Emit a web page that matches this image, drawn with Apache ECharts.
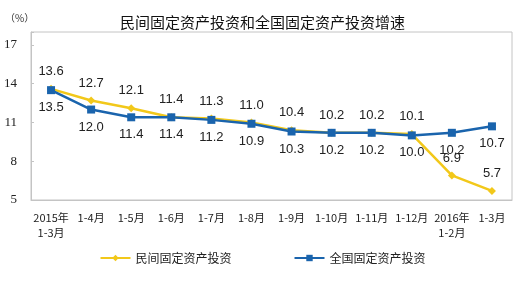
<!DOCTYPE html>
<html>
<head>
<meta charset="utf-8">
<script src="https://cdn.jsdelivr.net/npm/echarts@6/dist/echarts.min.js"></script>
<style>html,body{margin:0;padding:0;background:#fff;}#c{width:525px;height:281px;}</style>
</head>
<body>
<div id="c"></div>
<script>
const categories = ['2015年\n1-3月','1-4月','1-5月','1-6月','1-7月','1-8月','1-9月','1-10月','1-11月','1-12月','2016年\n1-2月','1-3月'];
const privateInvest = [13.6, 12.7, 12.1, 11.4, 11.3, 11.0, 10.4, 10.2, 10.2, 10.1, 6.9, 5.7];
const nationalInvest = [13.5, 12.0, 11.4, 11.4, 11.2, 10.9, 10.3, 10.2, 10.2, 10.0, 10.2, 10.7];
const yTicks = [5, 8, 11, 14, 17];
const seriesNames = ['民间固定资产投资', '全国固定资产投资'];

const chart = echarts.init(document.getElementById('c'), null, {renderer: 'canvas'});
const labelStyle = {show: true, fontFamily: 'Liberation Sans, Arial', fontSize: 13, color: '#222', distance: 7, formatter: p => p.value.toFixed(1)};
chart.setOption({
  animation: false,
  backgroundColor: '#fff',
  title: [{
    text: '民间固定资产投资和全国固定资产投资增速',
    left: 'center', top: 10,
    textStyle: {fontFamily: 'Noto Sans CJK SC', fontSize: 15, fontWeight: 'normal', color: '#111'}
  }, {
    text: '（%）', left: 0, top: 8,
    textStyle: {fontFamily: 'Noto Sans CJK SC', fontSize: 10, fontWeight: 'normal', color: '#333'}
  }],
  legend: {
    bottom: 12, left: 'center', itemGap: 62, itemWidth: 30, itemHeight: 8,
    textStyle: {fontFamily: 'Noto Sans CJK SC', fontSize: 12, color: '#222'},
    data: seriesNames
  },
  grid: {left: 31, right: 13, top: 32, bottom: 81, show: true, borderColor: '#c4c4c4', borderWidth: 1},
  xAxis: {
    type: 'category', data: categories, boundaryGap: true,
    axisLine: {lineStyle: {color: '#c4c4c4'}},
    axisTick: {inside: true, length: 4, lineStyle: {color: '#c4c4c4'}},
    axisLabel: {interval: 0, fontFamily: 'Noto Sans CJK SC', fontSize: 11, color: '#222', lineHeight: 15, margin: 10}
  },
  yAxis: {
    type: 'value', min: 5, max: 18, interval: 3,
    splitLine: {show: false},
    axisLine: {show: true, lineStyle: {color: '#c4c4c4'}},
    axisTick: {show: true, inside: true, length: 3, lineStyle: {color: '#c4c4c4'}},
    axisLabel: {fontFamily: 'Liberation Serif', fontSize: 13, color: '#222', margin: 14,
      formatter: v => yTicks.includes(v) ? String(v) : ''}
  },
  series: [{
    name: seriesNames[0], type: 'line', data: privateInvest,
    symbol: 'diamond', symbolSize: 8,
    lineStyle: {color: '#f2c81a', width: 2.5},
    itemStyle: {color: '#f2c81a'},
    label: Object.assign({position: 'top'}, labelStyle)
  }, {
    name: seriesNames[1], type: 'line', data: nationalInvest,
    symbol: 'rect', symbolSize: 8,
    lineStyle: {color: '#1a64ad', width: 2.5},
    itemStyle: {color: '#1a64ad'},
    label: Object.assign({position: 'bottom'}, labelStyle)
  }]
});
</script>
</body>
</html>
